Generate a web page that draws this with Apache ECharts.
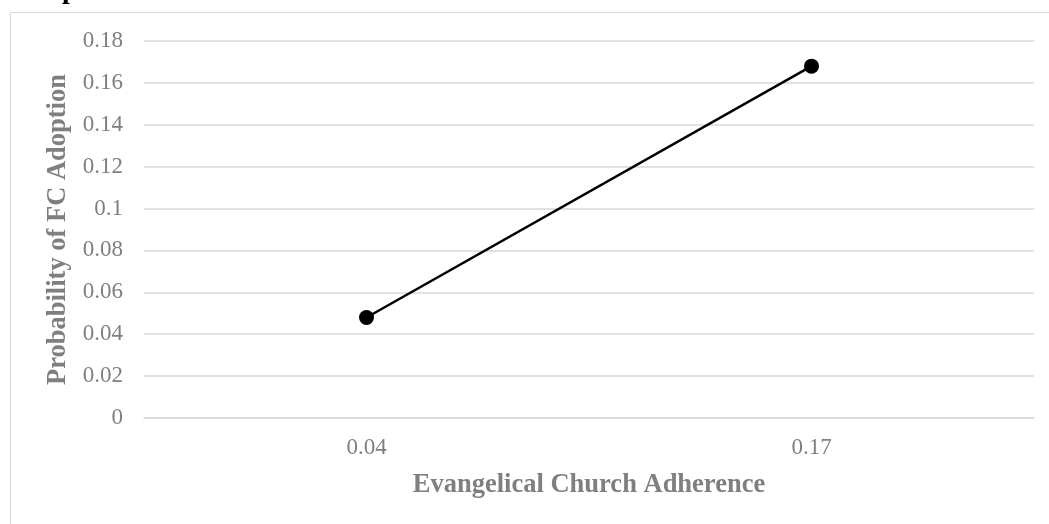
<!DOCTYPE html>
<html>
<head>
<meta charset="utf-8">
<style>
  html, body { margin: 0; padding: 0; background: #ffffff; }
  #chart { width: 1049px; height: 524px; }
</style>
<script src="https://cdn.jsdelivr.net/npm/echarts@6/dist/echarts.min.js"></script>
</head>
<body>
<div id="chart"></div>
<script>
// Evangelical church adherence levels (x categories)
const adherence = ['0.04', '0.17'];
// Predicted probability of FC adoption at each level
const probability = [0.048, 0.168];
// Y axis range and step
const yMin = 0;
const yMax = 0.18;
const yStep = 0.02;

const serif = '"Liberation Serif", "Times New Roman", serif';
const grey = '#7f7f7f';
const gridGrey = '#d9d9d9';

const chart = echarts.init(document.getElementById('chart'), null, { renderer: 'canvas' });

chart.setOption({
  animation: false,
  backgroundColor: '#ffffff',
  graphic: [
    {
      type: 'rect',
      shape: { x: 10.5, y: 12.5, width: 1200, height: 700 },
      style: { fill: 'none', stroke: gridGrey, lineWidth: 1 },
      silent: true
    },
    {
      type: 'text',
      left: 62,
      top: -23,
      style: { text: 'p', font: 'bold 28px ' + serif, fill: '#000000' },
      silent: true
    }
  ],
  grid: { left: 144, right: 15, top: 41, bottom: 106, containLabel: false },
  xAxis: {
    type: 'category',
    data: adherence,
    boundaryGap: true,
    axisLine: { show: true, lineStyle: { color: gridGrey, width: 1.5 } },
    axisTick: { show: false },
    axisLabel: { color: grey, fontFamily: serif, fontSize: 23, margin: 18 },
    name: 'Evangelical Church Adherence',
    nameLocation: 'middle',
    nameGap: 54,
    nameTextStyle: { color: grey, fontFamily: serif, fontSize: 26.5, fontWeight: 'bold' },
    splitLine: { show: false }
  },
  yAxis: {
    type: 'value',
    min: yMin,
    max: yMax,
    interval: yStep,
    axisLine: { show: false },
    axisTick: { show: false },
    axisLabel: {
      color: grey, fontFamily: serif, fontSize: 23, margin: 21,
      formatter: v => String(parseFloat(v.toFixed(2)))
    },
    splitLine: { show: true, lineStyle: { color: gridGrey, width: 1.5 } },
    name: 'Probability of FC Adoption',
    nameLocation: 'middle',
    nameGap: 72,
    nameRotate: 90,
    nameTextStyle: { color: grey, fontFamily: serif, fontSize: 26.5, fontWeight: 'bold' }
  },
  series: [
    {
      type: 'line',
      data: probability,
      symbol: 'circle',
      symbolSize: 15,
      lineStyle: { color: '#000000', width: 2.5 },
      itemStyle: { color: '#000000' },
      z: 3
    }
  ]
});
</script>
</body>
</html>
